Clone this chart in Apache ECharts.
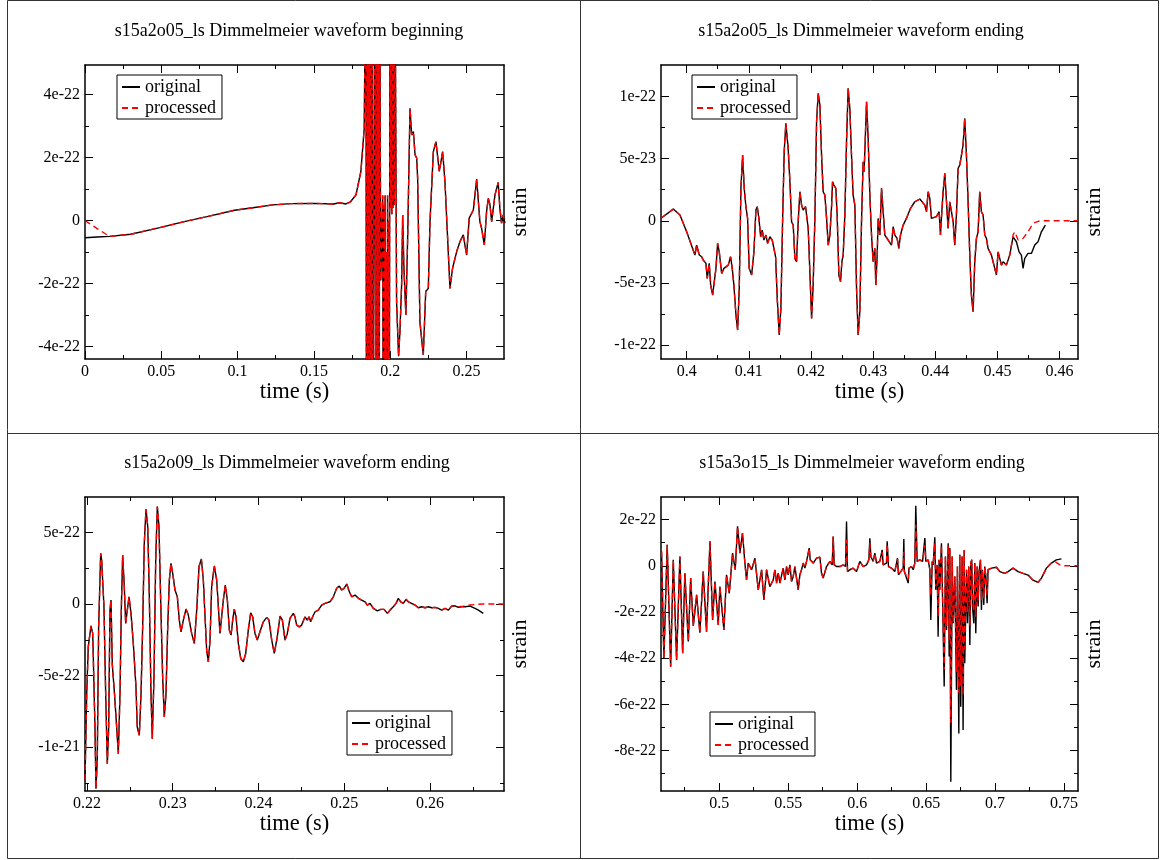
<!DOCTYPE html>
<html>
<head>
<meta charset="utf-8">
<title>Dimmelmeier waveforms</title>
<script src="https://cdn.jsdelivr.net/npm/echarts@6/dist/echarts.min.js"></script>
<style>
  html, body { margin: 0; padding: 0; background: #fff; }
  #main { width: 1160px; height: 860px; }
</style>
</head>
<body>
<div id="main"></div>
<script>
// strain values below are in units of 1e-22, time in seconds

// ---- panel 1 : s15a2o05 beginning ----
const p1OrigHead = [[0, -0.54], [0.008, -0.52]];
const p1ProcHead = [[0, 0], [0.008, -0.25]];
const p1Common = [
  [0.016, -0.5], [0.03, -0.43], [0.049, -0.22], [0.065, -0.03], [0.08, 0.13], [0.098, 0.33],
  [0.11, 0.41], [0.123, 0.5], [0.135, 0.54], [0.15, 0.55], [0.163, 0.53], [0.1667, 0.57],
  [0.171, 0.53], [0.174, 0.6], [0.1776, 0.82], [0.1808, 1.56], [0.183, 2.93], [0.1841, 9],
  [0.1845, -9], [0.1849, 9], [0.1853, -9], [0.1857, 9], [0.1861, -9], [0.1865, 9], [0.1869, -9],
  [0.1873, 9], [0.1877, -9], [0.1881, 9], [0.1885, -9], [0.1896, -9], [0.19, 9], [0.1904, -9],
  [0.1908, 9], [0.1912, -9], [0.1916, 9], [0.192, -9], [0.1924, 9], [0.1928, -9], [0.1932, 9],
  [0.1935, 2.7], [0.1938, -1.9], [0.1951, 0.8], [0.1955, -9], [0.1959, 0.5], [0.1963, -9],
  [0.1967, 0.8], [0.1971, -9], [0.1975, -1], [0.1979, -9], [0.1983, 0.8], [0.1987, -9],
  [0.1991, 0], [0.1994, -9], [0.1999, 9], [0.2003, 0.4], [0.2007, 9], [0.2011, 0.2], [0.2015, 9],
  [0.2019, 0.4], [0.2023, 9], [0.2027, 0.5], [0.2031, 9], [0.2042, -2.57], [0.2055, -4.3],
  [0.2064, -3.52], [0.2075, -2.04], [0.2082, 0.18], [0.209, -1.51], [0.2103, -2.99], [0.2115, -0.45],
  [0.213, 3.57], [0.2141, 2.72], [0.2152, 2.83], [0.2163, 2.09], [0.2174, 1.98], [0.218, 1.35],
  [0.2195, -3.21], [0.2217, -4.26], [0.2233, -2.25], [0.225, -2.15], [0.2261, -0.03], [0.2283, 2.19],
  [0.23, 2.51], [0.2322, 1.56], [0.2344, 2.19], [0.2359, 1.24], [0.2392, -2.15], [0.2409, -1.51],
  [0.2436, -0.98], [0.2457, -0.67], [0.2479, -0.45], [0.2501, -1.09], [0.2518, 0.08], [0.2545, 0.34],
  [0.2567, 1.32], [0.2588, -0.03], [0.2599, -0.24], [0.2617, -0.77], [0.2632, 0.29], [0.2643, 0.71],
  [0.2654, 0.5], [0.2665, -0.03], [0.2687, 0.82], [0.2708, 1.21], [0.2719, 0.39], [0.273, -0.08],
  [0.2741, 0.18], [0.2752, -0.08]
];

// ---- panel 2 : s15a2o05 ending ----
const p2Common = [
  [0.39587, 0.02], [0.39785, 0.094], [0.39892, 0.046], [0.4, -0.089], [0.40133, -0.276], [0.4016, -0.196],
  [0.40203, -0.276], [0.40241, -0.29], [0.40267, -0.317], [0.4031, -0.343], [0.40331, -0.464],
  [0.40363, -0.343], [0.40386, -0.518], [0.40418, -0.598], [0.40444, -0.612], [0.40471, -0.383],
  [0.40498, -0.182], [0.40524, -0.25], [0.40563, -0.424], [0.406, -0.383], [0.40632, -0.397],
  [0.40669, -0.357], [0.40707, -0.29], [0.40733, -0.383], [0.4076, -0.518], [0.40793, -0.759],
  [0.4082, -0.88], [0.40846, -0.545], [0.40873, 0.261], [0.409, 0.529], [0.40926, 0.261], [0.40953, 0.113],
  [0.4098, 0.02], [0.41006, -0.383], [0.41045, -0.437], [0.41082, -0.25], [0.41114, 0.086], [0.41135, 0.113],
  [0.41162, 0.02], [0.4119, -0.129], [0.41215, -0.075], [0.41243, -0.155], [0.41275, -0.115], [0.41302, -0.182],
  [0.41339, -0.129], [0.41376, -0.155], [0.41404, -0.155], [0.41431, -0.29], [0.41457, -0.625], [0.41489, -0.92],
  [0.41516, -0.705], [0.41543, -0.008], [0.41569, 0.556], [0.41596, 0.784], [0.41633, 0.583], [0.41661, 0.314],
  [0.41688, -0.008], [0.41714, -0.035], [0.41741, -0.303], [0.41768, -0.33], [0.41794, -0.008], [0.41822, 0.234],
  [0.41849, 0.126], [0.41875, 0.086], [0.41913, 0.113], [0.41955, -0.061], [0.41982, -0.41], [0.4201, -0.786],
  [0.42035, -0.518], [0.42063, 0.02], [0.4209, 0.797], [0.42116, 1.026], [0.42143, 0.932], [0.4217, 0.529],
  [0.42196, 0.234], [0.42223, 0.207], [0.42251, 0.02], [0.42277, -0.196], [0.42304, -0.115], [0.42331, 0.113],
  [0.42347, 0.314], [0.42368, 0.287], [0.424, 0.261], [0.42421, 0.046], [0.42449, -0.437], [0.42476, -0.49],
  [0.42497, -0.33], [0.42518, -0.276], [0.42545, 0.046], [0.42572, 0.636], [0.42598, 1.066], [0.42625, 0.905],
  [0.42652, 0.529], [0.42678, 0.207], [0.42706, 0.126], [0.42733, -0.545], [0.42759, -0.92], [0.42786, -0.733],
  [0.42813, -0.008], [0.42839, 0.475], [0.42855, 0.395], [0.42894, 0.958], [0.4292, 0.663], [0.42947, 0.207],
  [0.42974, -0.115], [0.43, -0.33], [0.43027, -0.222], [0.43043, -0.518], [0.43065, -0.276], [0.43081, 0.019],
  [0.43108, -0.115], [0.43135, 0.261], [0.43161, 0.073], [0.43188, -0.115], [0.43242, -0.155], [0.43295, -0.196],
  [0.43322, -0.048], [0.43349, -0.115], [0.43386, -0.142], [0.43413, -0.222], [0.4344, -0.115], [0.43483, -0.035],
  [0.43536, 0.019], [0.43601, 0.1], [0.4367, 0.153], [0.43751, 0.175], [0.43831, 0.126], [0.43858, 0.073],
  [0.43885, 0.234], [0.43912, 0.18], [0.43938, 0.019], [0.43965, 0.006], [0.44019, 0.033], [0.44062, 0.073],
  [0.44083, -0.115], [0.44105, 0.073], [0.44126, 0.234], [0.44153, 0.382], [0.4418, 0.395], [0.44206, -0.061],
  [0.44233, 0.153], [0.4426, 0.073], [0.44287, -0.008], [0.44313, -0.196], [0.4434, 0.046], [0.44367, 0.422],
  [0.44394, 0.449], [0.44421, 0.529], [0.44447, 0.61], [0.44474, 0.824], [0.44501, 0.529], [0.44528, 0.153],
  [0.44555, -0.276], [0.44581, -0.598], [0.44608, -0.733], [0.44635, -0.33], [0.44662, -0.142], [0.44689, -0.089],
  [0.44715, 0.234], [0.44742, 0.073], [0.44769, 0.046], [0.44796, -0.115], [0.44823, -0.142], [0.44849, -0.222],
  [0.44876, -0.209], [0.44903, -0.276], [0.4493, -0.33], [0.44957, -0.383], [0.44984, -0.437], [0.4501, -0.25],
  [0.45037, -0.303], [0.45064, -0.357], [0.45091, -0.33], [0.45144, -0.357], [0.45198, -0.276]
];
const p2OrigTail = [
  [0.45251, -0.129], [0.45305, -0.169], [0.45348, -0.25], [0.45385, -0.276], [0.45412, -0.383],
  [0.45439, -0.303], [0.45492, -0.263], [0.45546, -0.263], [0.456, -0.196], [0.45653, -0.169],
  [0.45707, -0.089], [0.45771, -0.035]
];
const p2ProcTail = [
  [0.45251, -0.115], [0.45278, -0.089], [0.45332, -0.155], [0.45412, -0.142], [0.45492, -0.089],
  [0.45573, -0.021], [0.4568, 0], [0.46296, 0]
];

// ---- panel 3 : s15a2o09 ending ----
const p3Common = [
  [0.21978, -12.3], [0.21998, -6.25], [0.22016, -2.99], [0.22048, -1.52], [0.22068, -2.05], [0.22094, -8.59],
  [0.22106, -12.9], [0.22121, -10.9], [0.22137, -1.6], [0.22161, 3.55], [0.22172, 3.08], [0.22199, -0.19],
  [0.22219, -6.25], [0.22238, -11.16], [0.22254, -8.59], [0.22269, -0.42], [0.22281, 0.28], [0.22296, -4.22],
  [0.2232, -6.1], [0.22347, -8.59], [0.22366, -10.46], [0.22386, -6.25], [0.22401, -0.42], [0.22417, 3.43],
  [0.22436, 1.21], [0.22452, -1.36], [0.22471, -0.42], [0.22491, 0.51], [0.22514, -0.65], [0.22541, -2.75],
  [0.22572, -5.79], [0.22587, -8.59], [0.22611, -9.17], [0.22631, -6.25], [0.2265, -1.6], [0.22669, 4.25],
  [0.22689, 6.63], [0.22709, 5.42], [0.22727, 0.75], [0.22747, -6.25], [0.22762, -9.4], [0.22782, -5.1],
  [0.22802, 3.08], [0.22821, 6.81], [0.2284, 5.42], [0.2286, 0.28], [0.22883, -5.1], [0.22902, -7.89],
  [0.22922, -6.25], [0.22942, -1.6], [0.22961, 1.68], [0.2298, 2.85], [0.23, 2.15], [0.23027, 0.98],
  [0.23054, 0.51], [0.23077, -1.12], [0.23097, -1.94], [0.23124, -1.12], [0.23155, -0.35], [0.23182, -0.77],
  [0.23221, -2.05], [0.23252, -2.75], [0.2328, -0.42], [0.23307, 2.62], [0.23334, 3.15], [0.23357, 1.68],
  [0.23377, -0.89], [0.23396, -3.22], [0.23415, -4.04], [0.23435, -2.52], [0.23454, 1.21], [0.23485, 2.66],
  [0.23513, 1.68], [0.23532, -0.19], [0.23551, -2.05], [0.23571, -2.17], [0.2359, 0.28], [0.23613, 1.33],
  [0.23637, 0.28], [0.2366, -1.82], [0.2368, -2.17], [0.23699, -1.12], [0.23718, -0.35], [0.23738, -0.89],
  [0.23765, -2.75], [0.23793, -3.8], [0.23823, -4.04], [0.23851, -3.45], [0.23881, -1.82], [0.23909, -0.61],
  [0.23932, -0.89], [0.23959, -2.05], [0.23986, -2.52], [0.24017, -1.94], [0.24056, -1.24], [0.24096, -0.93],
  [0.24122, -1.12], [0.24154, -2.52], [0.24184, -3.45], [0.24219, -2.29], [0.24251, -0.84], [0.24278, -1.12],
  [0.24309, -2.52], [0.24336, -2.05], [0.24367, -1.0], [0.24406, -0.65], [0.24425, -0.89], [0.24445, -1.47],
  [0.24476, -1.59], [0.24503, -1.47], [0.24542, -0.89], [0.24569, -1.12], [0.24589, -0.89], [0.24608, -1.24],
  [0.24631, -0.89], [0.24659, -0.54], [0.24697, -0.42], [0.24736, -0.07], [0.24775, 0.05], [0.24833, 0.16],
  [0.24872, 0.51], [0.24911, 1.1], [0.24942, 1.26], [0.24969, 0.98], [0.24997, 1.1], [0.25028, 1.4],
  [0.25059, 0.86], [0.25086, 0.51], [0.25125, 0.63], [0.25164, 0.4], [0.25202, 0.28], [0.25241, 0.16],
  [0.25268, -0.07], [0.253, 0.05], [0.25338, -0.3], [0.25385, -0.47], [0.25424, -0.37], [0.25463, -0.37],
  [0.25502, -0.65], [0.25533, -0.42], [0.25571, -0.19], [0.25603, 0.05], [0.2563, 0.4], [0.25657, 0.16],
  [0.25688, 0.05], [0.25719, 0.33], [0.25746, 0.16], [0.25785, 0.05], [0.25824, -0.07], [0.25863, -0.26],
  [0.25902, -0.19], [0.25941, -0.26], [0.25979, -0.19], [0.26018, -0.26], [0.26057, -0.23], [0.26096, -0.3],
  [0.26135, -0.42], [0.26174, -0.3], [0.26213, -0.42], [0.26251, -0.14], [0.2629, -0.12]
];
const p3OrigTail = [
  [0.26329, -0.23], [0.26368, -0.19], [0.26407, -0.19], [0.26465, -0.14], [0.26523, -0.3],
  [0.26562, -0.42], [0.2662, -0.65]
];
const p3ProcTail = [
  [0.26329, -0.19], [0.26387, -0.14], [0.26465, -0.07], [0.26543, -0.02], [0.2662, 0], [0.26861, 0]
];

// ---- panel 4 : s15a3o15 ending ----
const p4Lead = [
  [0.4582, 0.62], [0.4599, -4.0], [0.4623, 0.91], [0.4648, -4.37], [0.4667, 0.26], [0.4691, -4.08],
  [0.4715, 0.4], [0.4735, -3.79], [0.4751, -0.32], [0.4776, -3.28], [0.4793, -0.53], [0.4812, -2.6],
  [0.4836, -1.26], [0.486, -2.9], [0.4884, -0.25], [0.4908, -2.85], [0.4933, 1.06], [0.4952, -2.34],
  [0.4969, -0.68], [0.4993, -2.56], [0.5005, -0.9], [0.5034, -2.78], [0.5053, -0.39], [0.5073, -1.19],
  [0.5097, 0.55], [0.5116, -0.17], [0.5133, 1.71], [0.515, 0.55], [0.5169, 1.42], [0.5186, 0.12],
  [0.5198, -0.61], [0.521, 0.12], [0.5235, -0.17], [0.5259, 0.33], [0.5283, -1.04], [0.5307, -0.17],
  [0.5324, -1.48], [0.5343, -0.17], [0.5367, -0.9], [0.53915, -0.61], [0.54036, -0.17], [0.54157, -0.75],
  [0.54278, -0.32], [0.54398, -0.75], [0.5464, -0.1], [0.54761, -0.61], [0.54882, -0.03], [0.55002, -0.39],
  [0.55123, 0.04], [0.55244, -0.68], [0.55365, -0.46], [0.55485, -0.03], [0.55606, -0.53], [0.55727, -1.04],
  [0.55848, -0.39], [0.55968, -0.17], [0.56089, 0.12], [0.5621, -0.1], [0.56331, 0.19], [0.56451, 0.12],
  [0.56524, 0.77], [0.56596, 0.26], [0.56814, 0.12], [0.57056, 0.33], [0.57297, 0.38], [0.57418, -0.32],
  [0.57538, -0.53], [0.57659, -0.61], [0.5778, -0.03], [0.58022, 0.19], [0.58191, 0.04], [0.58263, 1.27],
  [0.58336, 0.04], [0.58505, -0.03], [0.58746, -0.03], [0.58988, 0.04], [0.59157, -0.03]
];
const p4SpikesOrig = [
  [0.5923, 1.92], [0.59302, -0.25], [0.59471, -0.17], [0.59712, -0.1], [0.59954, -0.25], [0.60196, 0.19],
  [0.60437, -0.03], [0.60679, 0.04], [0.60848, 0.26], [0.6092, 1.19], [0.60993, 0.4], [0.61162, 0.19],
  [0.61283, 0.55], [0.61403, 0.12], [0.61645, 0.19], [0.61814, 0.69], [0.61887, 0.04], [0.62128, 0.12],
  [0.62176, 1.06], [0.62273, -0.03], [0.6249, -0.1], [0.62732, -0.25], [0.62925, 0.33], [0.62998, -0.39],
  [0.63094, -0.32], [0.63336, -0.1], [0.63384, 1.16], [0.6342, -0.25], [0.6355, -0.17], [0.637, -0.75],
  [0.6376, -0.1], [0.6394, -0.03], [0.6406, -0.17], [0.6418, 0.12], [0.6425, 2.6], [0.6435, 0.19],
  [0.6454, 0.26], [0.6474, 0.19], [0.6491, 1.2], [0.6498, 0.19], [0.6515, 0.26], [0.6527, -0.17],
  [0.6534, -2.34], [0.6544, 0.19], [0.6551, 0.04], [0.6563, 1.24], [0.657, -1.04], [0.658, 0.04],
  [0.6587, -3.07], [0.6594, 0.26], [0.6599, -1.04], [0.6611, 0.98], [0.6619, -1.33], [0.6631, -5.23],
  [0.664, 0.4], [0.6648, -2.78], [0.666, 0.98], [0.6667, -3.93], [0.6672, 0.77], [0.6679, -9.35],
  [0.6689, 0.4], [0.6696, -2.49], [0.6708, -0.46], [0.672, -5.38], [0.6727, -0.03], [0.6737, -7.26],
  [0.6744, 0.48], [0.6751, -6.1], [0.6761, 0.4], [0.6768, -7.11], [0.6776, 0.69], [0.678, -4.22],
  [0.6793, -0.17], [0.68, -2.49], [0.6809, -0.03], [0.6817, -3.43], [0.6824, 0.12], [0.6831, 0.26],
  [0.6836, -1.76], [0.6846, -2.49], [0.6853, 0.12], [0.686, -2.92], [0.687, -0.03], [0.6877, -1.76],
  [0.6884, -0.25], [0.6894, 0.26], [0.6901, -1.91], [0.6908, -0.17], [0.6918, -1.69], [0.6925, -0.03],
  [0.6933, -0.46], [0.6942, -1.62], [0.6949, -0.17], [0.6962, -0.25], [0.6974, -0.1], [0.6986, -0.03]
];
const p4SpikesProc = [
  [0.5923, 1.13], [0.59302, -0.25], [0.59471, -0.17], [0.59712, -0.1], [0.59954, -0.25], [0.60196, 0.19],
  [0.60437, -0.03], [0.60679, 0.04], [0.60848, 0.26], [0.6092, 1.0], [0.60993, 0.4], [0.61162, 0.19],
  [0.61283, 0.55], [0.61403, 0.12], [0.61645, 0.19], [0.61814, 0.6], [0.61887, 0.04], [0.62128, 0.12],
  [0.62176, 0.95], [0.62273, -0.03], [0.6249, -0.1], [0.62732, -0.25], [0.62925, 0.3], [0.62998, -0.39],
  [0.63094, -0.32], [0.63336, -0.1], [0.63384, 0.6], [0.6342, -0.25], [0.6355, -0.17], [0.637, -0.6],
  [0.6376, -0.1], [0.6394, -0.03], [0.6406, -0.17], [0.6418, 0.12], [0.6425, 1.78], [0.6435, 0.19],
  [0.6454, 0.26], [0.6474, 0.19], [0.6491, 0.9], [0.6498, 0.19], [0.6515, 0.26], [0.6527, -0.17],
  [0.6534, -1.3], [0.6544, 0.19], [0.6551, 0.04], [0.6563, 1.0], [0.657, -0.9], [0.658, 0.04],
  [0.6587, -2.2], [0.6594, 0.26], [0.6599, -1.04], [0.6611, 0.9], [0.6619, -1.33], [0.6631, -4.5],
  [0.664, 0.4], [0.6648, -2.6], [0.666, 0.9], [0.6667, -3.2], [0.6672, 0.7], [0.6679, -6.8],
  [0.6689, 0.4], [0.6696, -2.49], [0.6708, -0.46], [0.672, -4.6], [0.6727, -0.03], [0.6737, -5.5],
  [0.6744, 0.48], [0.6751, -5.2], [0.6761, 0.4], [0.6768, -5.6], [0.6776, 0.69], [0.678, -3.6],
  [0.6793, -0.17], [0.68, -2.0], [0.6809, -0.03], [0.6817, -2.6], [0.6824, 0.12], [0.6831, 0.26],
  [0.6836, -1.5], [0.6846, -2.0], [0.6853, 0.12], [0.686, -2.2], [0.687, -0.03], [0.6877, -1.5],
  [0.6884, -0.25], [0.6894, 0.26], [0.6901, -1.5], [0.6908, -0.17], [0.6918, -1.4], [0.6925, -0.03],
  [0.6933, -0.46], [0.6942, -1.3], [0.6949, -0.17], [0.6962, -0.25], [0.6974, -0.1], [0.6986, -0.03]
];
const p4Tail = [
  [0.701, -0.06], [0.7034, -0.25], [0.707, -0.33], [0.7094, -0.25], [0.713, -0.1], [0.7167, -0.25],
  [0.7203, -0.33], [0.7239, -0.4], [0.7275, -0.62], [0.7312, -0.72], [0.7336, -0.53], [0.7372, -0.1],
  [0.7408, 0.12]
];
const p4OrigEnd = [[0.7444, 0.26], [0.7481, 0.3]];
const p4ProcEnd = [[0.743, 0.2], [0.747, 0.04], [0.749, 0], [0.7601, 0]];

// ---- axis ticks ----
const p1XTicks = [0, 0.05, 0.1, 0.15, 0.2, 0.25];
const p1XMinor = [0.025, 0.075, 0.125, 0.175, 0.225];
const p1YTicks = [-4, -2, 0, 2, 4];
const p1YMinor = [-3, -1, 1, 3];
const p2XTicks = [0.4, 0.41, 0.42, 0.43, 0.44, 0.45, 0.46];
const p2XMinor = [0.405, 0.415, 0.425, 0.435, 0.445, 0.455];
const p2YTicks = [-1, -0.5, 0, 0.5, 1];
const p2YMinor = [-0.75, -0.25, 0.25, 0.75];
const p3XTicks = [0.22, 0.23, 0.24, 0.25, 0.26];
const p3XMinor = [0.225, 0.235, 0.245, 0.255, 0.265];
const p3YTicks = [-10, -5, 0, 5];
const p3YMinor = [-12.5, -7.5, -2.5, 2.5];
const p4XTicks = [0.5, 0.55, 0.6, 0.65, 0.7, 0.75];
const p4XMinor = [0.475, 0.525, 0.575, 0.625, 0.675, 0.725];
const p4YTicks = [-8, -6, -4, -2, 0, 2];
const p4YMinor = [-9, -7, -5, -3, -1, 1];

const titles = [
  's15a2o05_ls Dimmelmeier waveform beginning',
  's15a2o05_ls Dimmelmeier waveform ending',
  's15a2o09_ls Dimmelmeier waveform ending',
  's15a3o15_ls Dimmelmeier waveform ending'
];

const FONT = "'Liberation Serif', 'DejaVu Serif', serif";

// layout of the four plots (pixels) and their axis ranges
const panels = [
  { box: [85, 65, 419, 294], x: [0, 0.2746], y: [-4.39, 4.94], titleX: 289, titleY: 31, legend: [117, 75],
    xt: p1XTicks, xm: p1XMinor, yt: p1YTicks, ym: p1YMinor,
    orig: [...p1OrigHead, ...p1Common], proc: [...p1ProcHead, ...p1Common] },
  { box: [661, 65, 417, 294], x: [0.39587, 0.46296], y: [-1.113, 1.254], titleX: 861, titleY: 31, legend: [692, 75],
    xt: p2XTicks, xm: p2XMinor, yt: p2YTicks, ym: p2YMinor,
    orig: [...p2Common, ...p2OrigTail], proc: [...p2Common, ...p2ProcTail] },
  { box: [85, 497, 419, 294], x: [0.21978, 0.26861], y: [-13.06, 7.48], titleX: 287, titleY: 463, legend: [347, 711],
    xt: p3XTicks, xm: p3XMinor, yt: p3YTicks, ym: p3YMinor,
    orig: [...p3Common, ...p3OrigTail], proc: [...p3Common, ...p3ProcTail] },
  { box: [661, 497, 417, 294], x: [0.4578, 0.7601], y: [-9.75, 2.98], titleX: 862, titleY: 463, legend: [710, 712],
    xt: p4XTicks, xm: p4XMinor, yt: p4YTicks, ym: p4YMinor,
    orig: [...p4Lead, ...p4SpikesOrig, ...p4Tail, ...p4OrigEnd],
    proc: [...p4Lead, ...p4SpikesProc, ...p4Tail, ...p4ProcEnd] }
];

// 4e-22, 5e-23, -1e-21 style labels
function sci(v) {
  if (v === 0) return '0';
  const s = v * 1e-22;
  const e = Math.floor(Math.log10(Math.abs(s)) + 1e-9);
  const m = Math.round(s / Math.pow(10, e) * 100) / 100;
  return m + 'e' + e;
}

const grids = [], xAxes = [], yAxes = [], series = [], legends = [], graphics = [];
const axisLine = { show: true, onZero: false, lineStyle: { color: '#000', width: 1.5 } };
const noLine = { show: false, onZero: false };

panels.forEach((p, i) => {
  grids.push({ left: p.box[0], top: p.box[1], width: p.box[2], height: p.box[3] });

  const xb = { gridIndex: i, type: 'value', min: p.x[0], max: p.x[1], splitLine: { show: false } };
  const yb = { gridIndex: i, type: 'value', min: p.y[0], max: p.y[1], splitLine: { show: false } };
  const tick = (vals, len) => ({ show: true, inside: true, length: len, customValues: vals,
    lineStyle: { color: '#000', width: 1 } });

  // bottom axis with labels, then minor ticks, then mirrored top axis
  xAxes.push({ ...xb, position: 'bottom', axisLine, axisTick: tick(p.xt, 8),
    axisLabel: { customValues: p.xt, margin: 5, fontFamily: FONT, fontSize: 16, color: '#000',
      formatter: (v) => String(v) },
    name: 'time (s)', nameLocation: 'middle', nameGap: 17,
    nameTextStyle: { fontFamily: FONT, fontSize: 22.5, color: '#000' } });
  xAxes.push({ ...xb, position: 'bottom', axisLine: noLine, axisTick: tick(p.xm, 4), axisLabel: { show: false } });
  xAxes.push({ ...xb, position: 'top', axisLine, axisTick: tick(p.xt, 8), axisLabel: { show: false } });
  xAxes.push({ ...xb, position: 'top', axisLine: noLine, axisTick: tick(p.xm, 4), axisLabel: { show: false } });

  yAxes.push({ ...yb, position: 'left', axisLine, axisTick: tick(p.yt, 8),
    axisLabel: { customValues: p.yt, margin: 5, fontFamily: FONT, fontSize: 16, color: '#000', formatter: sci } });
  yAxes.push({ ...yb, position: 'left', axisLine: noLine, axisTick: tick(p.ym, 4), axisLabel: { show: false } });
  yAxes.push({ ...yb, position: 'right', axisLine, axisTick: tick(p.yt, 8), axisLabel: { show: false },
    name: 'strain', nameLocation: 'middle', nameGap: 5, nameRotate: 90,
    nameTextStyle: { fontFamily: FONT, fontSize: 22, color: '#000' } });
  yAxes.push({ ...yb, position: 'right', axisLine: noLine, axisTick: tick(p.ym, 4), axisLabel: { show: false } });

  series.push({
    name: 'original', type: 'line', xAxisIndex: i * 4, yAxisIndex: i * 4, data: p.orig,
    symbol: 'none', clip: true, silent: true, z: 2,
    lineStyle: { color: '#000', width: 1.4 }, itemStyle: { color: '#000' }
  });
  series.push({
    name: 'processed', type: 'line', xAxisIndex: i * 4, yAxisIndex: i * 4, data: p.proc,
    symbol: 'none', clip: true, silent: true, z: 3,
    lineStyle: { color: '#ff0000', width: 1.4, type: [6, 4] }, itemStyle: { color: '#ff0000' }
  });

  // legend shows only the line sample, the symbol is hidden
  legends.push({
    left: p.legend[0], top: p.legend[1], orient: 'vertical', selectedMode: false,
    data: ['original', 'processed'],
    itemWidth: 18, itemHeight: 12, itemGap: 3, padding: [3, 6, 2, 4],
    borderColor: '#000', borderWidth: 1, backgroundColor: '#fff',
    itemStyle: { opacity: 0, borderWidth: 0 },
    textStyle: { fontFamily: FONT, fontSize: 18, color: '#000' }
  });

  graphics.push({
    type: 'text', x: p.titleX, y: p.titleY,
    style: { text: titles[i], fontFamily: FONT, fontSize: 18, fill: '#000', align: 'center', verticalAlign: 'middle' }
  });
});

// page frame and cell dividers
const frame = { stroke: '#333', lineWidth: 1 };
graphics.push({ type: 'rect', shape: { x: 7.5, y: 0.5, width: 1151, height: 858 }, style: { fill: 'none', ...frame } });
graphics.push({ type: 'line', shape: { x1: 580.5, y1: 0, x2: 580.5, y2: 859 }, style: frame });
graphics.push({ type: 'line', shape: { x1: 7, y1: 433.5, x2: 1159, y2: 433.5 }, style: frame });

const option = {
  animation: false,
  backgroundColor: '#fff',
  grid: grids,
  xAxis: xAxes,
  yAxis: yAxes,
  legend: legends,
  series: series,
  graphic: graphics
};

var myChart = echarts.init(document.getElementById('main'));
myChart.setOption(option);
</script>
</body>
</html>
